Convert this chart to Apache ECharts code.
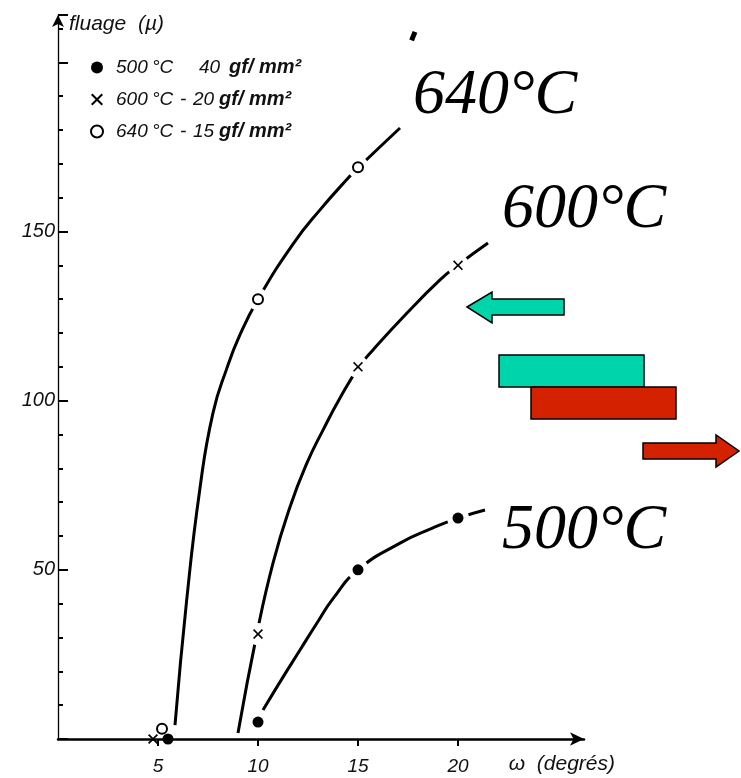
<!DOCTYPE html>
<html>
<head>
<meta charset="utf-8">
<script src="https://cdn.jsdelivr.net/npm/echarts@6/dist/echarts.min.js"></script>
<style>html,body{margin:0;padding:0;background:#fff;}#c{width:741px;height:778px;}</style>
</head>
<body>
<div id="c"></div>
<script>
// ---- data ----
const xTickValues = [5, 10, 15, 20];
const yLabelValues = [50, 100, 150];
const seriesNames = ['500 °C   40 gf/mm²', '600 °C - 20 gf/mm²', '640 °C - 15 gf/mm²'];
const curveLabels = ['500°C', '600°C', '640°C'];
// measured points (markers)
const pts500 = [[5.5, 0], [10, 5], [15, 50], [20, 65.3]];
const pts600 = [[4.75, 0], [10, 31], [15, 110], [20, 140]];
const pts640 = [[5.2, 3], [10, 130], [15, 169]];
// hand-drawn curves (traced)
const curve500 = [[10.25, 8.6], [11.25, 18.3], [12.1, 26.3], [12.95, 34.3], [13.75, 41.5], [15, 50], [17.1, 57.9], [18.75, 62.4], [20, 65.3], [21.35, 67.7]];
const curve600 = [[9.0, 1.8], [9.95, 31.3], [10.75, 52.0], [11.6, 68.6], [12.45, 81.6], [13.25, 91.3], [14.1, 100.8], [15.05, 110], [15.75, 115], [17.45, 125.9], [19.1, 135.7], [20, 140.1], [21.5, 146.6]];
const curve640 = [[5.85, 4.1], [6.43, 40.8], [7.1, 74.2], [7.75, 96.4], [8.45, 109.7], [9.1, 119.5], [10, 130], [11.75, 146.3], [13.1, 156.4], [14.6, 166.4], [15.05, 169.1], [17.1, 180.6]];
const blob640 = [[17.68, 206.5], [17.85, 209]];

const X_MAX = 26.3, Y_MAX = 214;
const crossPath = 'path://M0,1.2L1.2,0L5,3.8L8.8,0L10,1.2L6.2,5L10,8.8L8.8,10L5,6.2L1.2,10L0,8.8L3.8,5Z';
const halo = (pts) => pts.filter(p => p[0] >= 10);

const legendText = {
  [seriesNames[0]]: '{n|500}{c1|°C}{v1|40}{u|gf/ mm²}',
  [seriesNames[1]]: '{n|600}{c|°C}{h|-}{v|20}{u|gf/ mm²}',
  [seriesNames[2]]: '{n|640}{c|°C}{h|-}{v|15}{u|gf/ mm²}'
};
const F = { fontFamily: 'Liberation Sans', fontStyle: 'italic', fontSize: 19, color: '#111' };

const chart = echarts.init(document.getElementById('c'));
const lineSeries = (data) => ({
  type: 'line', data: data, smooth: 0.5, symbol: 'none', z: 2,
  lineStyle: { color: '#000', width: 3 }, silent: true
});
chart.setOption({
  animation: false,
  backgroundColor: '#fff',
  grid: { left: 58, right: 741 - 58 - 526, top: 15, bottom: 39, containLabel: false },
  legend: {
    orient: 'vertical', left: 85, top: 52, itemGap: 11,
    itemWidth: 12, itemHeight: 12,
    data: seriesNames,
    formatter: name => legendText[name],
    textStyle: Object.assign({}, F, {
      lineHeight: 21, padding: [0, 0, 0, 8],
      rich: {
        n: Object.assign({}, F, { width: 36 }),
        c1: Object.assign({}, F, { width: 47 }),
        v1: Object.assign({}, F, { width: 30 }),
        c: Object.assign({}, F, { width: 28 }),
        h: Object.assign({}, F, { width: 13 }),
        v: Object.assign({}, F, { width: 26 }),
        u: Object.assign({}, F, { fontSize: 20, fontWeight: 'bold' })
      }
    })
  },
  xAxis: {
    type: 'value', min: 0, max: X_MAX, interval: 5,
    name: 'ω  (degrés)', nameLocation: 'end', nameGap: 31,
    nameTextStyle: { fontFamily: 'Liberation Sans', fontStyle: 'italic', fontSize: 21, color: '#111', align: 'right', verticalAlign: 'top', padding: [15, 0, 0, 0] },
    axisLine: { lineStyle: { color: '#000', width: 2.5 }, symbol: ['none', 'arrow'], symbolSize: [10, 14] },
    axisTick: { show: true, length: 7, lineStyle: { color: '#000', width: 2 }, customValues: xTickValues },
    axisLabel: { customValues: xTickValues, margin: 18, fontFamily: 'Liberation Sans', fontStyle: 'italic', fontSize: 19, color: '#111' },
    splitLine: { show: false }
  },
  yAxis: [{
    type: 'value', min: 0, max: Y_MAX, interval: 10,
    name: 'fluage  (µ)', nameLocation: 'end', nameGap: -9,
    nameTextStyle: { fontFamily: 'Liberation Sans', fontStyle: 'italic', fontSize: 21, color: '#111', align: 'left', verticalAlign: 'middle', padding: [0, 0, 0, 11] },
    axisLine: { lineStyle: { color: '#000', width: 1.3 }, symbol: ['none', 'arrow'], symbolSize: [9, 12] },
    axisTick: { show: true, inside: true, length: 5, lineStyle: { color: '#000', width: 2 } },
    axisLabel: {
      margin: 3, fontFamily: 'Liberation Sans', fontStyle: 'italic', fontSize: 20, color: '#111',
      formatter: v => yLabelValues.includes(v) ? String(v) : ''
    },
    splitLine: { show: false }
  }, {
    type: 'value', min: 0, max: Y_MAX, interval: 50, position: 'left',
    axisLine: { show: false },
    axisTick: { show: true, inside: true, length: 10, lineStyle: { color: '#000', width: 2 } },
    axisLabel: { show: false }, splitLine: { show: false }
  }],
  series: [
    Object.assign(lineSeries(curve500), { name: 'c500' }),
    Object.assign(lineSeries(curve600), { name: 'c600' }),
    Object.assign(lineSeries(curve640), { name: 'c640' }),
    { type: 'line', data: blob640, symbol: 'none', z: 2, lineStyle: { color: '#000', width: 5 }, silent: true },
    { type: 'scatter', data: halo(pts500).concat(halo(pts600), halo(pts640)), symbol: 'circle', symbolSize: 22, z: 10, itemStyle: { color: '#ffffff', opacity: 1 }, silent: true },
    { name: seriesNames[0], type: 'scatter', data: pts500, symbol: 'circle', symbolSize: 11, z: 11, itemStyle: { color: '#000', opacity: 1 } },
    { name: seriesNames[1], type: 'scatter', data: pts600, symbol: crossPath, symbolSize: 10, z: 11, itemStyle: { color: '#000', opacity: 1 } },
    { name: seriesNames[2], type: 'scatter', data: pts640, symbol: 'circle', symbolSize: 10, z: 11, itemStyle: { color: '#fff', borderColor: '#000', borderWidth: 2, opacity: 1 } }
  ],
  graphic: [
    { type: 'text', left: 413, top: 64, style: { text: curveLabels[2], font: 'italic 64px "Liberation Serif"', fill: '#000' } },
    { type: 'text', left: 502, top: 178, style: { text: curveLabels[1], font: 'italic 64px "Liberation Serif"', fill: '#000' } },
    { type: 'text', left: 502, top: 499, style: { text: curveLabels[0], font: 'italic 64px "Liberation Serif"', fill: '#000' } },
    // teal left arrow
    { type: 'polygon', shape: { points: [[467, 307], [492, 292], [492, 299], [564, 299], [564, 315], [492, 315], [492, 323]] }, style: { fill: '#00D4AA', stroke: '#000', lineWidth: 1.5 } },
    // bars
    { type: 'rect', shape: { x: 499, y: 355, width: 145, height: 32 }, style: { fill: '#00D4AA', stroke: '#000', lineWidth: 1.5 } },
    { type: 'rect', shape: { x: 531, y: 387, width: 145, height: 32 }, style: { fill: '#D42200', stroke: '#000', lineWidth: 1.5 } },
    // red right arrow
    { type: 'polygon', shape: { points: [[643, 443], [716, 443], [716, 435], [739, 451], [716, 467], [716, 459], [643, 459]] }, style: { fill: '#D42200', stroke: '#000', lineWidth: 1.5 } }
  ]
});
</script>
</body>
</html>
